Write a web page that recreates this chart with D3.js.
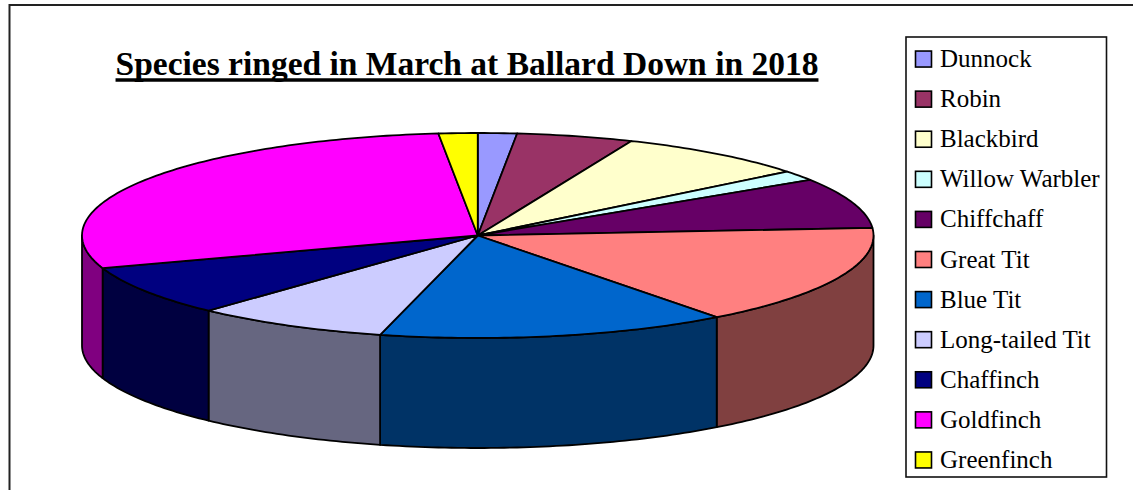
<!DOCTYPE html>
<html><head><meta charset="utf-8">
<script src="https://cdn.jsdelivr.net/npm/d3@7/dist/d3.min.js"></script>
<style>html,body{margin:0;padding:0;background:#fff;overflow:hidden}svg{display:block}text{font-family:"Liberation Serif","Times New Roman",serif;fill:#000}</style>
</head><body><div id="chart"></div>
<script>
const titleText = "Species ringed in March at Ballard Down in 2018";
const species = ["Dunnock","Robin","Blackbird","Willow Warbler","Chiffchaff","Great Tit","Blue Tit","Long-tailed Tit","Chaffinch","Goldfinch","Greenfinch"];
const counts = [1,3,5,1,5,10,9,5,5,18,1];
const topColors = ["#9999FF","#993366","#FFFFCC","#CCFFFF","#660066","#FF8080","#0066CC","#CCCCFF","#000080","#FF00FF","#FFFF00"];
const sideColors = ["#4D4D80","#4D1A33","#808066","#668080","#330033","#804040","#003366","#666680","#000040","#800080","#808000"];

const W = 1133, H = 490;
const svg = d3.select("#chart").append("svg").attr("width", W).attr("height", H);

svg.append("rect").attr("x", 9.5).attr("y", 5).attr("width", 1200).attr("height", 600)
  .attr("fill", "#fff").attr("stroke", "#222").attr("stroke-width", 2);

const title = svg.append("text").attr("x", 467).attr("y", 75).attr("text-anchor", "middle")
  .attr("font-size", 33.5).attr("font-weight", "bold").text(titleText);
const tw = title.node().getComputedTextLength();
svg.append("line").attr("x1", 467 - tw / 2).attr("x2", 467 + tw / 2).attr("y1", 80).attr("y2", 80)
  .attr("stroke", "#000").attr("stroke-width", 3.5);

// 3D pie projection
const sx = d3.scaleLinear().domain([-1, 1]).range([82, 873.5]);
const sy = d3.scaleLinear().domain([-1, 1]).range([133, 338]);
const depth = d3.scaleLinear().domain([0, 1]).range([0, 110]);
const px = a => sx(Math.sin(a));
const py = (a, z = 0) => sy(-Math.cos(a)) + depth(z);
const steps = (a0, a1) => { const n = Math.max(2, Math.ceil((a1 - a0) * 60)); return d3.range(n + 1).map(i => a0 + (a1 - a0) * i / n); };
const line = d3.line();

const arcs = d3.pie().sort(null).value(d => d)(counts).map((d, i) => ({...d, i}));

// visible outer wall: front half of the ellipse
const front0 = Math.PI / 2, front1 = 3 * Math.PI / 2;
const walls = arcs.filter(d => d.endAngle > front0 && d.startAngle < front1)
  .map(d => ({...d, a0: Math.max(d.startAngle, front0), a1: Math.min(d.endAngle, front1)}));

svg.append("g").selectAll("path").data(walls).join("path")
  .attr("d", d => {
    const as = steps(d.a0, d.a1);
    return line([...as.map(a => [px(a), py(a)]), ...as.slice().reverse().map(a => [px(a), py(a, 1)])]) + "Z";
  })
  .attr("fill", d => sideColors[d.i]).attr("stroke", "#000").attr("stroke-width", 1.8).attr("stroke-linejoin", "round");

svg.append("g").selectAll("path").data(arcs).join("path")
  .attr("d", d => line([[sx(0), sy(0)], ...steps(d.startAngle, d.endAngle).map(a => [px(a), py(a)])]) + "Z")
  .attr("fill", d => topColors[d.i]).attr("stroke", "#000").attr("stroke-width", 1.8).attr("stroke-linejoin", "round");

// legend
svg.append("rect").attr("x", 906).attr("y", 37).attr("width", 200.5).attr("height", 440)
  .attr("fill", "#fff").attr("stroke", "#111").attr("stroke-width", 1.6);
const ly = d3.scaleBand().domain(species).range([39, 480]);
const rows = svg.append("g").selectAll("g").data(species).join("g")
  .attr("transform", d => `translate(0,${ly(d) + ly.bandwidth() / 2})`);
rows.append("rect").attr("x", 915.5).attr("y", -8).attr("width", 16).attr("height", 16)
  .attr("fill", (d, i) => topColors[i]).attr("stroke", "#000").attr("stroke-width", 1.6);
rows.append("text").attr("x", 940).attr("y", 8).attr("font-size", 25).text(d => d);
</script></body></html>
